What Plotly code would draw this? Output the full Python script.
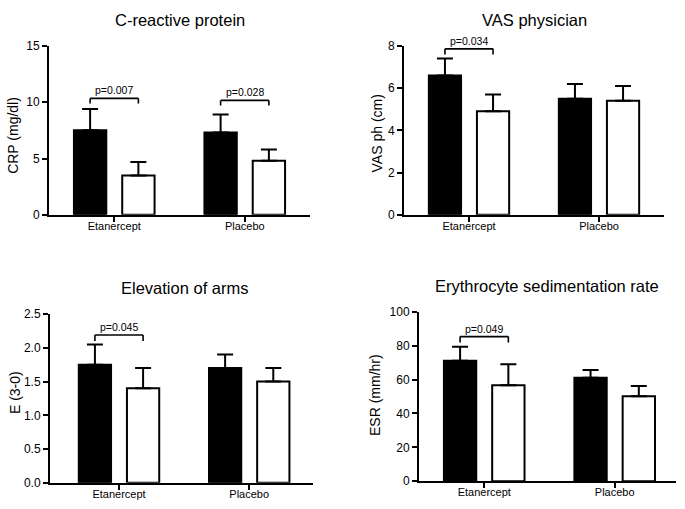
import plotly.graph_objects as go

# ---------------- data ----------------
categories = ["Etanercept", "Placebo"]

crp_before = [7.5, 7.3]
crp_before_err = [1.9, 1.6]
crp_after = [3.5, 4.8]
crp_after_err = [1.2, 1.0]

vas_before = [6.6, 5.5]
vas_before_err = [0.8, 0.7]
vas_after = [4.9, 5.4]
vas_after_err = [0.8, 0.7]

elev_before = [1.75, 1.70]
elev_before_err = [0.30, 0.20]
elev_after = [1.40, 1.50]
elev_after_err = [0.30, 0.20]

esr_before = [71.0, 61.0]
esr_before_err = [8.3, 4.6]
esr_after = [56.6, 50.1]
esr_after_err = [12.4, 6.1]

# p-value brackets: (category index, top of bracket, bottom of legs, label)
crp_brackets = [(0, 10.34, 9.88, "p=0.007"), (1, 10.16, 9.70, "p=0.028")]
vas_brackets = [(0, 7.86, 7.59, "p=0.034")]
elev_brackets = [(0, 2.19, 2.10, "p=0.045")]
esr_brackets = [(0, 85.3, 81.8, "p=0.049")]

titles = ["C-reactive protein", "VAS physician", "Elevation of arms",
          "Erythrocyte sedimentation rate"]
ytitles = ["CRP (mg/dl)", "VAS ph (cm)", "E (3-0)", "ESR (mm/hr)"]
yranges = [[0, 15], [0, 8], [0, 2.5], [0, 100]]
ydticks = [5, 2, 0.5, 20]
ytickformats = ["d", "d", ".1f", "d"]

# ---------------- layout constants ----------------
W, H = 685, 509
FONT = "Liberation Sans, Arial, Helvetica, sans-serif"
BARGAP = 0.26
BARGROUPGAP = 0.33
# pixel boxes of the plot areas: (left, right, top, bottom)
boxes = [(49, 310, 40, 213.7), (404, 664, 40, 213.7),
         (50, 313, 315.7, 489.3), (419, 676, 313.3, 487.7)]
xranges = [[-0.5, 1.5], [-0.5, 1.5], [-0.53, 1.49], [-0.5, 1.47]]
title_pos = [(180, 13), (534, 13), (184, 289), (547, 287)]
ytitle_pos = [(13.5, 132), (377, 130), (15, 397), (375, 399)]

panels = [
    (crp_before, crp_before_err, crp_after, crp_after_err, crp_brackets),
    (vas_before, vas_before_err, vas_after, vas_after_err, vas_brackets),
    (elev_before, elev_before_err, elev_after, elev_after_err, elev_brackets),
    (esr_before, esr_before_err, esr_after, esr_after_err, esr_brackets),
]

xs = list(range(len(categories)))
fig = go.Figure()
shapes = []
annotations = []
half = (1 - BARGAP) / 4  # offset of each bar centre from the category centre

for i, (b, be, a, ae, brackets) in enumerate(panels):
    n = "" if i == 0 else str(i + 1)
    xa, ya = "x" + n, "y" + n
    for vals, errs, fill in ((b, be, "black"), (a, ae, "white")):
        fig.add_trace(go.Bar(
            x=xs, y=vals, xaxis=xa, yaxis=ya,
            marker=dict(color=fill, line=dict(color="black", width=2)),
            error_y=dict(type="data", symmetric=False, array=errs,
                         arrayminus=[0] * len(errs), color="black",
                         thickness=2, width=8),
            showlegend=False, hoverinfo="skip"))
    l, r, t, btm = boxes[i]
    fig.update_layout(**{
        "xaxis" + n: dict(domain=[l / W, r / W], anchor=ya, range=xranges[i],
                          tickvals=xs, ticktext=categories, showline=True,
                          linecolor="black", linewidth=2, ticks="outside",
                          ticklen=5, tickwidth=2, tickcolor="black",
                          ticklabelstandoff=-5,
                          showgrid=False, zeroline=False, fixedrange=True,
                          tickfont=dict(family=FONT, size=11, color="black")),
        "yaxis" + n: dict(domain=[1 - btm / H, 1 - t / H], anchor=xa,
                          range=yranges[i], dtick=ydticks[i], tick0=0,
                          tickformat=ytickformats[i], showline=True,
                          linecolor="black", linewidth=2, ticks="outside",
                          ticklen=5, tickwidth=2, tickcolor="black",
                          showgrid=False, zeroline=False, fixedrange=True,
                          tickfont=dict(family=FONT, size=12, color="black")),
    })
    for (ci, ytop, yleg, label) in brackets:
        x0, x1 = ci - half, ci + half
        for (sx0, sy0, sx1, sy1) in ((x0, yleg, x0, ytop), (x0, ytop, x1, ytop),
                                     (x1, ytop, x1, yleg)):
            shapes.append(dict(type="line", xref=xa, yref=ya, x0=sx0, y0=sy0,
                               x1=sx1, y1=sy1,
                               line=dict(color="black", width=1.6)))
        annotations.append(dict(x=ci, y=ytop, xref=xa, yref=ya, text=label,
                                showarrow=False, yanchor="bottom", yshift=0,
                                font=dict(family=FONT, size=10.5, color="black")))
    tx, ty = title_pos[i]
    annotations.append(dict(x=tx / W, y=1 - ty / H, xref="paper", yref="paper",
                            text=titles[i], showarrow=False, xanchor="center",
                            yanchor="middle",
                            font=dict(family=FONT, size=16.5, color="black")))
    yx, yy = ytitle_pos[i]
    annotations.append(dict(x=yx / W, y=1 - yy / H, xref="paper", yref="paper",
                            text=ytitles[i], showarrow=False, textangle=-90,
                            xanchor="center", yanchor="middle",
                            font=dict(family=FONT, size=14, color="black")))

fig.update_layout(width=W, height=H, autosize=False,
                  margin=dict(l=0, r=0, t=0, b=0),
                  paper_bgcolor="white", plot_bgcolor="white",
                  barmode="group", bargap=BARGAP, bargroupgap=BARGROUPGAP,
                  shapes=shapes, annotations=annotations)

fig.write_html("out.html", config={"displayModeBar": False},
               post_script="document.body.style.margin='0';"
                           "document.body.style.padding='0';")
